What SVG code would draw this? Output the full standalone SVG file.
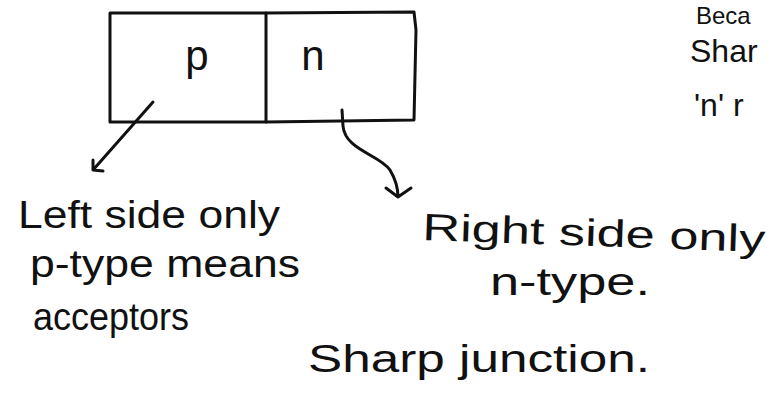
<svg xmlns="http://www.w3.org/2000/svg" width="779" height="416" viewBox="0 0 779 416">
<defs>
<style>
.ink{fill:none;stroke:#111;stroke-width:3;stroke-linecap:round;stroke-linejoin:round}
.t{font-family:"Liberation Sans","DejaVu Sans",sans-serif;fill:#111;font-size:38px}
.s{font-family:"Liberation Sans","DejaVu Sans",sans-serif;fill:#111;font-size:32px}
.b{font-size:24px}
.big{font-size:42px}
</style>
</defs>
<rect width="779" height="416" fill="#fff"/>
<g id="node-p">
<path class="ink" d="M110 13 L266 13 L266 122 L110 122 Z"/>
<text class="t big" x="197" y="70" text-anchor="middle">p</text>
</g>
<g id="node-n">
<path class="ink" d="M266 13 L414 12 L416 30 L414 120 L266 122"/>
<text class="t big" x="313" y="70" text-anchor="middle">n</text>
</g>
<g id="connectors">
<path class="ink" d="M153 102 L93 170 M93 160 L93 170 L103 171"/>
<path class="ink" d="M342 110 L343 126 C345 150 380 155 390 170 C396 180 398 190 398 197 M386 188 L398 197 L411 188"/>
</g>
<g id="labels">
<text class="t" x="18" y="228" textLength="262" lengthAdjust="spacingAndGlyphs">Left side only</text>
<text class="t" x="30" y="277" textLength="270" lengthAdjust="spacingAndGlyphs">p-type means</text>
<text class="t" x="33" y="330" textLength="156" lengthAdjust="spacingAndGlyphs">acceptors</text>
<text class="t" x="422" y="240" textLength="343" lengthAdjust="spacingAndGlyphs" transform="rotate(2 422 240)">Right side only</text>
<text class="t" x="490" y="295" textLength="160" lengthAdjust="spacingAndGlyphs">n-type.</text>
<text class="t" x="308" y="372" textLength="342" lengthAdjust="spacingAndGlyphs">Sharp junction.</text>
<text class="s b" x="696" y="24">Beca</text>
<text class="s" x="690" y="62">Shar</text>
<text class="s" x="694" y="116">'n' r</text>
</g>
</svg>
